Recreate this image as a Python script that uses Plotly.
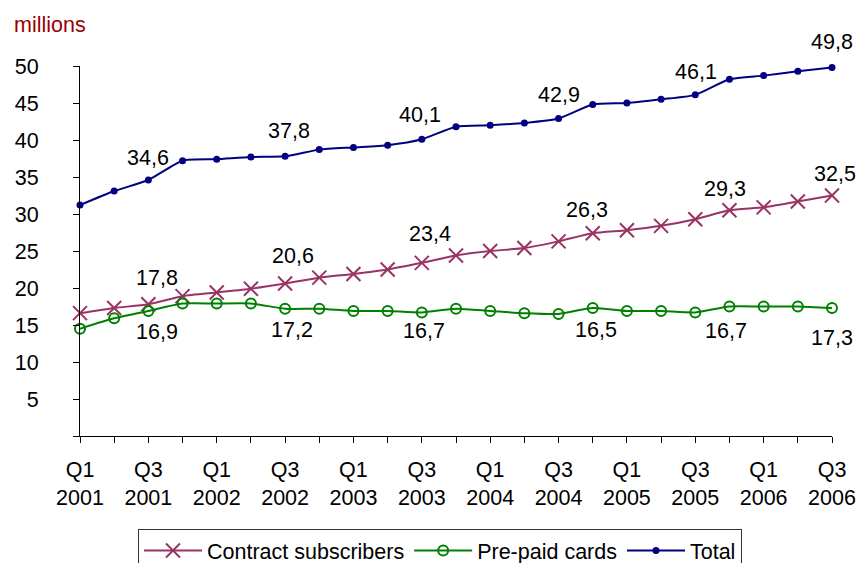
import plotly.graph_objects as go

quarters = ["Q1", "Q2", "Q3", "Q4"]
years = [2001, 2002, 2003, 2004, 2005, 2006]
categories = [f"{q} {y}" for y in years for q in quarters][:23]

contract = [16.6, 17.3, 17.8, 18.9, 19.4, 19.9, 20.6, 21.4, 21.9, 22.5, 23.4, 24.4,
            25.0, 25.4, 26.3, 27.4, 27.8, 28.4, 29.3, 30.5, 30.9, 31.7, 32.5]
prepaid = [14.5, 15.9, 16.9, 17.9, 17.9, 17.9, 17.2, 17.2, 16.9, 16.9, 16.7, 17.2,
           16.9, 16.6, 16.5, 17.3, 16.9, 16.9, 16.7, 17.5, 17.5, 17.5, 17.3]
total = [31.2, 33.1, 34.6, 37.2, 37.4, 37.7, 37.8, 38.7, 39.0, 39.3, 40.1, 41.8,
         42.0, 42.3, 42.9, 44.8, 45.0, 45.5, 46.1, 48.2, 48.7, 49.3, 49.8]

label_idx = [2, 6, 10, 14, 18, 22]
y_ticks = [0, 5, 10, 15, 20, 25, 30, 35, 40, 45, 50]

x = list(range(len(categories)))
tick_pos = x[::2]
tick_text = [c.replace(" ", "<br>") for c in categories[::2]]

FONT = "Liberation Sans, Arial, sans-serif"
FS = 21.5
C_CON = "#993366"
C_PRE = "#008000"
C_TOT = "#000080"

fig = go.Figure()
fig.add_trace(go.Scatter(
    x=x, y=contract, name="Contract subscribers", mode="lines+markers",
    line=dict(color=C_CON, width=2, shape="spline", smoothing=0.6),
    marker=dict(symbol="x-thin-open", size=14, color=C_CON, line=dict(color=C_CON, width=2)),
    cliponaxis=False))
fig.add_trace(go.Scatter(
    x=x, y=prepaid, name="Pre-paid cards", mode="lines+markers",
    line=dict(color=C_PRE, width=2, shape="spline", smoothing=0.6),
    marker=dict(symbol="circle-open", size=10, color=C_PRE, line=dict(color=C_PRE, width=2)),
    cliponaxis=False))
fig.add_trace(go.Scatter(
    x=x, y=total, name="Total", mode="lines+markers",
    line=dict(color=C_TOT, width=2, shape="spline", smoothing=0.6),
    marker=dict(symbol="circle", size=7, color=C_TOT),
    cliponaxis=False))

def fmt(v):
    return f"{v:.1f}".replace(".", ",")

# label offsets (px): (xshift, yshift)
off_tot = [(0, 22), (4, 25), (-2, 24), (0, 24), (1, 23), (0, 25)]
off_con = [(9, 26), (8, 28), (8, 29), (28, 31), (30, 30), (3, 22)]
off_pre = [(9, -21), (7, -21), (2, -19), (37, -16), (31, -19), (0, -30)]

annotations = []
for series, offs in ((total, off_tot), (contract, off_con), (prepaid, off_pre)):
    for i, (dx, dy) in zip(label_idx, offs):
        annotations.append(dict(
            x=x[i], y=series[i], xref="x", yref="y", text=fmt(series[i]),
            showarrow=False, xshift=dx, yshift=dy,
            font=dict(family=FONT, size=FS, color="black")))
annotations.append(dict(
    x=(12 - 80) / 752, y=(436 - 25) / 370, xref="paper", yref="paper",
    text="millions", showarrow=False, xanchor="left", yanchor="middle",
    font=dict(family=FONT, size=FS, color="#990000")))

fig.update_layout(
    width=859, height=563,
    margin=dict(l=80, r=27, t=66, b=127, autoexpand=False),
    paper_bgcolor="white", plot_bgcolor="white",
    font=dict(family=FONT, size=FS, color="black"),
    showlegend=True,
    legend=dict(orientation="h", xref="container", yref="container",
                x=138 / 859, y=1 - 529 / 563,
                xanchor="left", yanchor="top",
                bordercolor="#333333", borderwidth=1, bgcolor="white",
                font=dict(family=FONT, size=FS, color="black"),
                itemwidth=58, tracegroupgap=0),
    annotations=annotations,
)
fig.update_xaxes(
    range=[0, 22], showgrid=False, zeroline=False, automargin=False,
    showline=True, linecolor="black", linewidth=1,
    tickmode="array", tickvals=tick_pos, ticktext=tick_text,
    ticks="outside", ticklen=6, tickcolor="black", tickwidth=1,
    ticklabelstandoff=8,
    minor=dict(dtick=1, tick0=0, ticks="outside", ticklen=6, tickcolor="black", tickwidth=1),
    tickfont=dict(family=FONT, size=FS, color="black"))
fig.update_yaxes(
    range=[0, 50], showgrid=False, zeroline=False, automargin=False,
    showline=True, linecolor="black", linewidth=1,
    tickmode="array", tickvals=y_ticks, ticktext=[""] + [str(v) for v in y_ticks[1:]],
    ticks="outside", ticklen=6, tickcolor="black", tickwidth=1,
    ticklabelstandoff=30,
    tickfont=dict(family=FONT, size=FS, color="black"))

fig.write_html("out.html")
